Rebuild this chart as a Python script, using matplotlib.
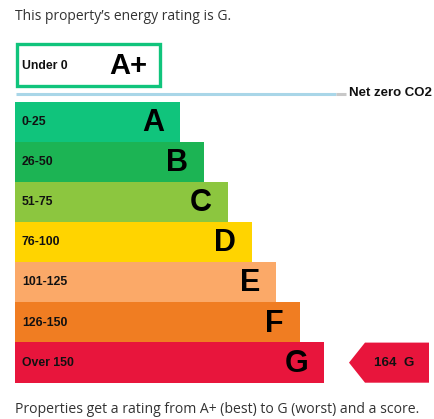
import matplotlib
matplotlib.use("Agg")
import matplotlib.pyplot as plt
from matplotlib.patches import Rectangle, Polygon

# Data
bands = ["A", "B", "C", "D", "E", "F", "G"]
ranges = ["0-25", "26-50", "51-75", "76-100", "101-125", "126-150", "Over 150"]
colors = ["#10c47c", "#1cb454", "#8cc63f", "#ffd400", "#fba968", "#f07d22", "#e8153c"]
top_band = "A+"
top_range = "Under 0"
score = 164
rating = "G"
title = "This property\u2019s energy rating is G."
footer = "Properties get a rating from A+ (best) to G (worst) and a score."
netzero = "Net zero CO2"

W, H = 434, 419
fig = plt.figure(figsize=(W / 100, H / 100), dpi=100)
ax = fig.add_axes([0, 0, 1, 1])
ax.set_xlim(0, W)
ax.set_ylim(H, 0)
ax.axis("off")

label_font = "Liberation Sans"
text_font = "Open Sans"

# Title
ax.text(15, 16, title, fontsize=10.0, family=text_font, color="#333333",
        ha="left", va="center")

# A+ box
ax.add_patch(Rectangle((16.5, 44.5), 143.5, 42, fill=False, edgecolor="#10c47c", lw=2.4))
ax.text(22, 66, top_range, fontsize=8.8, family=label_font, fontweight="bold",
        color="#111111", ha="left", va="center")
ax.text(147, 66, top_band, fontsize=21, family=label_font, fontweight="bold",
        color="#000000", ha="right", va="center")

# Net zero line
ax.plot([16, 336], [94, 94], color="#a9d6e8", lw=2.2, solid_capstyle="butt")
ax.plot([336, 346], [94, 94], color="#c8c8c8", lw=2.2, solid_capstyle="butt")
ax.text(349, 93, netzero, fontsize=9.5, family=label_font, fontweight="bold",
        color="#111111", ha="left", va="center")

# Bars
left = 15
row_h = 40.1
top = 102
base_w = 165
step = 24
centers = [top + row_h * (i + 0.5) for i in range(len(bands))]
lengths = [base_w + step * i for i in range(len(bands))]
ax.barh(centers, lengths, left=left, height=row_h + 0.3, color=colors, linewidth=0)
for i, (b, r) in enumerate(zip(bands, ranges)):
    ax.text(22, centers[i], r, fontsize=8.8, family=label_font, fontweight="bold",
            color="#111111", ha="left", va="center")
    ax.text(left + lengths[i] - 16, centers[i] + 1, b, fontsize=22, family=label_font,
            fontweight="bold", color="#000000", ha="right", va="center")

# Score arrow
gi = bands.index(rating)
cy = centers[gi]
y0, y1 = cy - row_h / 2, cy + row_h / 2
arrow = Polygon([(349, cy), (365, y0), (429, y0), (429, y1), (365, y1)],
                closed=True, facecolor=colors[gi], edgecolor="none")
ax.add_patch(arrow)
ax.text(374, cy, f"{score}  {rating}", fontsize=9.6, family=label_font,
        fontweight="bold", color="#111111", ha="left", va="center")

# Footer
ax.text(15, 409, footer, fontsize=10.1, family=text_font, color="#333333",
        ha="left", va="center")

fig.savefig("out.png", dpi=100)
